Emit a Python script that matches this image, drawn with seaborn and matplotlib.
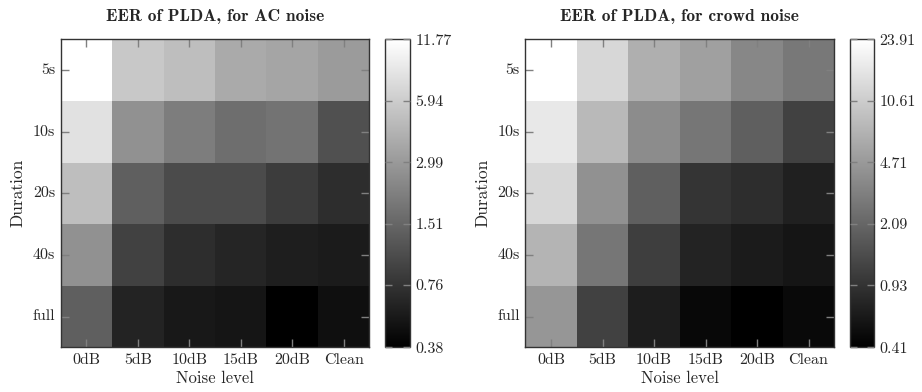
import numpy as np
import pandas as pd
import seaborn as sns
import matplotlib
matplotlib.use("Agg")
import matplotlib.pyplot as plt
from matplotlib.colors import LogNorm

# Equal error rates (%) of the PLDA back-end, by utterance duration and noise level
durations = ["5s", "10s", "20s", "40s", "full"]
noise_levels = ["0dB", "5dB", "10dB", "15dB", "20dB", "Clean"]

ac_eer = [
    [11.77, 5.61, 4.90, 3.75, 3.50, 3.06],
    [7.86, 2.68, 2.04, 1.67, 1.79, 1.12],
    [4.90, 1.37, 1.04, 1.04, 0.85, 0.70],
    [2.68, 0.91, 0.70, 0.63, 0.57, 0.55],
    [1.37, 0.61, 0.53, 0.51, 0.38, 0.47],
]
crowd_eer = [
    [23.91, 12.63, 6.67, 5.26, 3.53, 2.78],
    [16.57, 7.83, 3.82, 2.69, 1.86, 1.16],
    [12.63, 4.14, 1.86, 0.94, 0.84, 0.69],
    [7.23, 2.69, 1.10, 0.72, 0.63, 0.58],
    [4.48, 1.16, 0.66, 0.47, 0.41, 0.48],
]

ac_cbar_ticks = [0.38, 0.76, 1.51, 2.99, 5.94, 11.77]
crowd_cbar_ticks = [0.41, 0.93, 2.09, 4.71, 10.61, 23.91]

titles = ["EER of PLDA, for AC noise", "EER of PLDA, for crowd noise"]

sns.set_theme(style="white")
plt.rcParams["font.family"] = ["cmr10", "DejaVu Serif"]
plt.rcParams["axes.formatter.use_mathtext"] = True

W, H = 922, 392
fig = plt.figure(figsize=(W / 100, H / 100), dpi=100)


def box(x0, y0, x1, y1):
    return [x0 / W, 1 - y1 / H, (x1 - x0) / W, (y1 - y0) / H]


panels = [
    (ac_eer, ac_cbar_ticks, titles[0], box(60.7, 39.3, 369.3, 347.3), box(385, 39.3, 410, 347.3)),
    (crowd_eer, crowd_cbar_ticks, titles[1], box(525.3, 39.3, 834.3, 347.3), box(850, 39.3, 874, 347.3)),
]

tick_gray = "#808080"
frame_color = "#333333"

for values, cticks, title, ax_box, cax_box in panels:
    df = pd.DataFrame(values, index=durations, columns=noise_levels)
    ax = fig.add_axes(ax_box)
    cax = fig.add_axes(cax_box)
    vmin, vmax = float(np.min(values)), float(np.max(values))
    sns.heatmap(
        df, ax=ax, cbar_ax=cax, cmap="gray",
        norm=LogNorm(vmin=vmin, vmax=vmax),
        cbar_kws={"ticks": cticks},
        linewidths=0,
    )
    # keep tick marks drawn on top of the cells
    ax.set_axisbelow(False)
    cax.set_axisbelow(False)

    ax.set_title(title, fontsize=12.5, pad=13, family=["cmb10", "DejaVu Serif"], fontweight="bold")
    ax.set_xlabel("Noise level", fontsize=12, labelpad=3)
    ax.set_ylabel("Duration", fontsize=12.5, labelpad=5)
    ax.set_xticklabels(noise_levels, rotation=0, fontsize=11.5)
    ax.set_yticklabels(durations, rotation=0, fontsize=11.5)
    ax.tick_params(axis="both", direction="in", length=6, width=1.0, color=tick_gray,
                   top=True, right=True, bottom=True, left=True,
                   labeltop=False, labelright=False, pad=4)
    for sp in ax.spines.values():
        sp.set_visible(True)
        sp.set_color(frame_color)
        sp.set_linewidth(1.0)
        sp.set_zorder(3)

    cbar = ax.collections[0].colorbar
    cax.minorticks_off()
    cbar.set_ticks(cticks)
    cbar.set_ticklabels([f"{t:.2f}" for t in cticks])
    cax.tick_params(axis="y", direction="in", length=5, width=1.0, color=tick_gray,
                    left=True, right=True, labelleft=False, labelright=True,
                    labelsize=11.5, pad=4)
    cbar.outline.set_visible(True)
    cbar.outline.set_edgecolor(frame_color)
    cbar.outline.set_linewidth(1.0)

fig.savefig("out.png", dpi=100)
